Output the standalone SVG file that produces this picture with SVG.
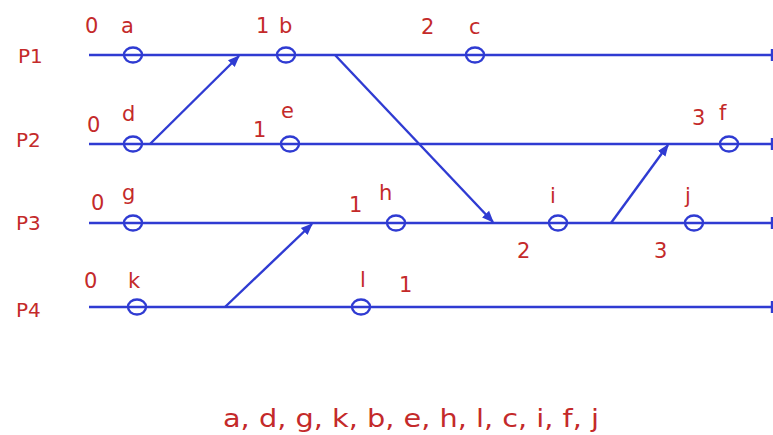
<svg xmlns="http://www.w3.org/2000/svg" width="773" height="435" viewBox="0 0 773 435">
<style>
.ln{stroke:#2f3bd2;stroke-width:2.4;fill:none}
.ev{stroke:#2f3bd2;stroke-width:2.4;fill:none}
.t{fill:#c42a2a;font-family:"DejaVu Sans",sans-serif;font-size:21px}
.p{fill:#c42a2a;font-family:"DejaVu Sans",sans-serif;font-size:20px}
</style>
<defs>
<marker id="ah" viewBox="0 0 10 10" refX="9" refY="5" markerWidth="5" markerHeight="5" orient="auto" markerUnits="strokeWidth">
<path d="M0,1 L10,5 L0,9 Z" fill="#2f3bd2"/>
</marker>
</defs>
<rect width="773" height="435" fill="#fff"/>
<g id="processes">
<g id="P1"><text class="p" x="18" y="63">P1</text><line class="ln" x1="89" y1="55" x2="772" y2="55"/><line class="ln" x1="772" y1="49" x2="772" y2="61"/></g>
<g id="P2"><text class="p" x="16" y="147">P2</text><line class="ln" x1="89" y1="144" x2="772" y2="144"/><line class="ln" x1="772" y1="138" x2="772" y2="150"/></g>
<g id="P3"><text class="p" x="16" y="230">P3</text><line class="ln" x1="89" y1="223" x2="772" y2="223"/><line class="ln" x1="772" y1="217" x2="772" y2="229"/></g>
<g id="P4"><text class="p" x="16" y="317">P4</text><line class="ln" x1="89" y1="307" x2="772" y2="307"/><line class="ln" x1="772" y1="301" x2="772" y2="313"/></g>
</g>
<g id="connectors">
<line class="ln" x1="150" y1="144" x2="239" y2="56" marker-end="url(#ah)"/>
<line class="ln" x1="335" y1="55" x2="493" y2="222" marker-end="url(#ah)"/>
<line class="ln" x1="225" y1="307" x2="312" y2="224" marker-end="url(#ah)"/>
<line class="ln" x1="611" y1="223" x2="668" y2="145" marker-end="url(#ah)"/>
</g>
<g id="a"><ellipse class="ev" cx="133" cy="55" rx="9" ry="7.5"/><text class="t" x="85" y="33">0</text><text class="t" x="121" y="33">a</text></g>
<g id="b"><ellipse class="ev" cx="286" cy="55" rx="9" ry="7.5"/><text class="t" x="256" y="33">1</text><text class="t" x="279" y="33">b</text></g>
<g id="c"><ellipse class="ev" cx="475" cy="55" rx="9" ry="7.5"/><text class="t" x="421" y="34">2</text><text class="t" x="469" y="34">c</text></g>
<g id="d"><ellipse class="ev" cx="133" cy="144" rx="9" ry="7.5"/><text class="t" x="87" y="132">0</text><text class="t" x="122" y="121">d</text></g>
<g id="e"><ellipse class="ev" cx="290" cy="144" rx="9" ry="7.5"/><text class="t" x="253" y="137">1</text><text class="t" x="281" y="118">e</text></g>
<g id="f"><ellipse class="ev" cx="729" cy="144" rx="9" ry="7.5"/><text class="t" x="692" y="125">3</text><text class="t" x="719" y="120">f</text></g>
<g id="g"><ellipse class="ev" cx="133" cy="223" rx="9" ry="7.5"/><text class="t" x="91" y="210">0</text><text class="t" x="122" y="200">g</text></g>
<g id="h"><ellipse class="ev" cx="396" cy="223" rx="9" ry="7.5"/><text class="t" x="349" y="212">1</text><text class="t" x="379" y="200">h</text></g>
<g id="i"><ellipse class="ev" cx="558" cy="223" rx="9" ry="7.5"/><text class="t" x="550" y="203">i</text><text class="t" x="517" y="258">2</text></g>
<g id="j"><ellipse class="ev" cx="694" cy="223" rx="9" ry="7.5"/><text class="t" x="685" y="203">j</text><text class="t" x="654" y="258">3</text></g>
<g id="k"><ellipse class="ev" cx="137" cy="307" rx="9" ry="7.5"/><text class="t" x="84" y="288">0</text><text class="t" x="128" y="288">k</text></g>
<g id="l"><ellipse class="ev" cx="361" cy="307" rx="9" ry="7.5"/><text class="t" x="360" y="287">l</text><text class="t" x="399" y="292">1</text></g>
<text class="t" x="223" y="427" style="font-size:25px" textLength="376" lengthAdjust="spacingAndGlyphs">a, d, g, k, b, e, h, l, c, i, f, j</text>
</svg>
